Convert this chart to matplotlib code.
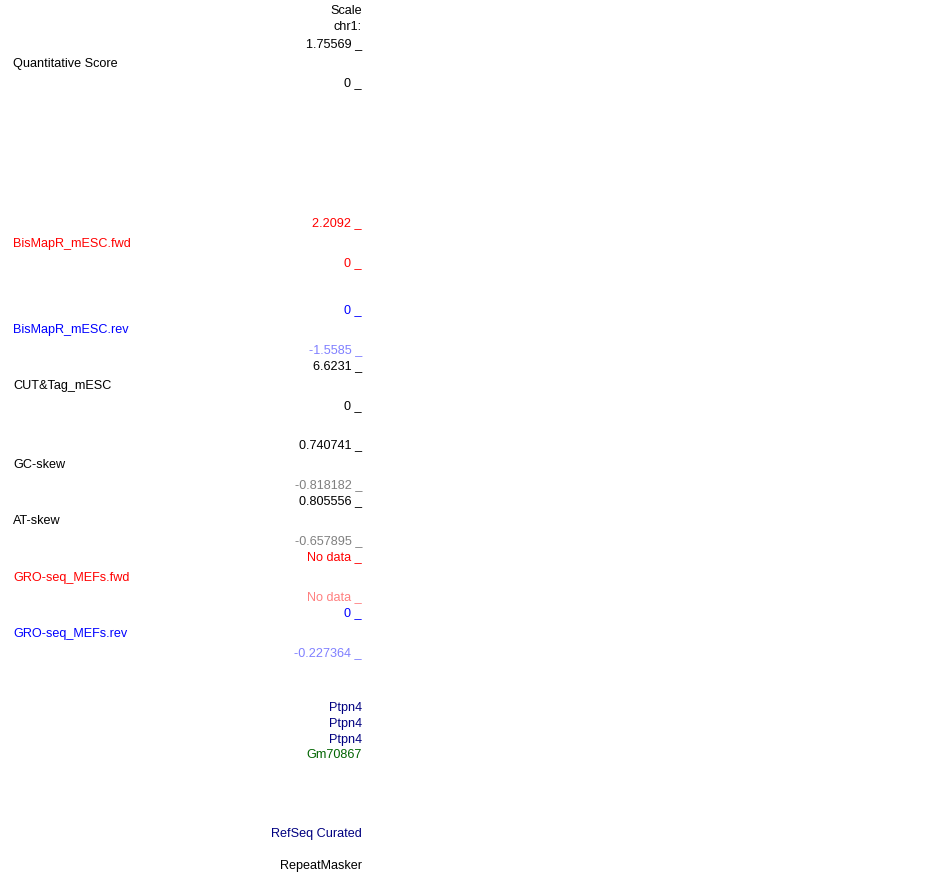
import matplotlib
matplotlib.use("Agg")
import matplotlib.pyplot as plt

# Right-column labels (axis ranges and track names)
right_labels = ["Scale", "chr1:", "1.75569 _", "0 _",
                "2.2092 _", "0 _", "0 _", "-1.5585 _",
                "6.6231 _", "0 _", "0.740741 _", "-0.818182 _",
                "0.805556 _", "-0.657895 _", "No data _", "No data _",
                "0 _", "-0.227364 _",
                "Ptpn4", "Ptpn4", "Ptpn4", "Gm70867",
                "RefSeq Curated", "RepeatMasker"]
right_colors = ["black", "black", "black", "black",
                "#ff0000", "#ff0000", "#0000ff", "#8080ff",
                "black", "black", "black", "#808080",
                "black", "#808080", "#ff0000", "#ff8080",
                "#0000ff", "#8080ff",
                "#000080", "#000080", "#000080", "#006400",
                "#000080", "black"]
right_y = [10, 26, 43, 82, 222, 262, 309, 349, 365, 405, 444, 484,
           500, 540, 556, 596, 612, 652, 706, 722, 738, 754, 833, 864]

# Left-column track titles
left_labels = ["Quantitative Score", "BisMapR_mESC.fwd", "BisMapR_mESC.rev",
               "CUT&Tag_mESC", "GC-skew", "AT-skew",
               "GRO-seq_MEFs.fwd", "GRO-seq_MEFs.rev"]
left_colors = ["black", "#ff0000", "#0000ff", "black", "black", "black",
               "#ff0000", "#0000ff"]
left_y = [62, 242, 329, 385, 464, 520, 576, 632]

W, H = 950, 873
fig = plt.figure(figsize=(W / 100, H / 100), dpi=100)
ax = fig.add_axes([0, 0, 1, 1])
ax.set_xlim(0, W)
ax.set_ylim(H, 0)
ax.axis("off")

font = dict(family=["Liberation Sans", "DejaVu Sans"], fontsize=9.1)
dy = 1.5
for t, c, y in zip(right_labels, right_colors, right_y):
    ax.text(362, y + dy, t, color=c, ha="right", va="center", **font)
for t, c, y in zip(left_labels, left_colors, left_y):
    ax.text(13, y + dy, t, color=c, ha="left", va="center", **font)

fig.savefig("out.png", dpi=100, facecolor="white")
